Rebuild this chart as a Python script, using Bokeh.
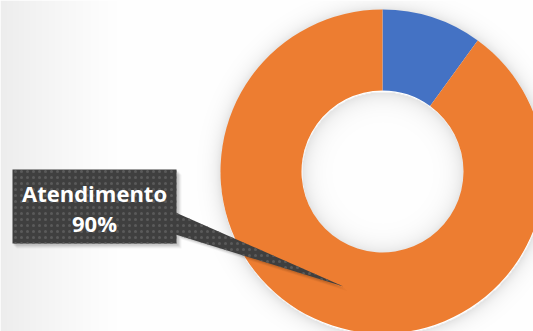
import numpy as np
from bokeh.plotting import figure
from bokeh.models import Range1d, ColumnDataSource
from bokeh.core.properties import value
from bokeh.embed import file_html
from bokeh.resources import INLINE

# ---- data ----
categories = ["Outros", "Atendimento"]
values = [10, 90]
colors = ["#4472C4", "#ED7D31"]
label_category = "Atendimento"

W, H = 533, 331
cx, cy = 382, H - 171
r_in, r_out = 81, 162

vals = np.array(values, dtype=float)
frac = vals / vals.sum()
cum = np.concatenate([[0], np.cumsum(frac)])
# clockwise from 12 o'clock
start = np.pi / 2 - 2 * np.pi * cum[1:]
end = np.pi / 2 - 2 * np.pi * cum[:-1]
src = ColumnDataSource(dict(cat=categories, val=values, color=colors, start=start, end=end))

p = figure(width=W, height=H, output_backend="svg", toolbar_location=None,
           x_range=Range1d(0, W), y_range=Range1d(0, H),
           min_border=0, x_axis_type=None, y_axis_type=None)
p.grid.visible = False
p.outline_line_color = None
p.background_fill_color = "white"
p.border_fill_color = "white"

# ---- background: soft gradient + donut shadows ----
yy, xx = np.mgrid[0:H, 0:W].astype(float)
g = np.full((H, W), 255.0)
g -= 18 * np.clip(1 - xx / 130.0, 0, 1) ** 1.3
d = np.hypot(xx - cx, yy - (cy - 2))
outer = d > r_out
g -= np.where(outer, 30 * np.exp(-(d - r_out) / 7.0), 0)
inner = d < r_in
g -= np.where(inner, 28 * np.exp(-(r_in - d) / 9.0), 0)
g = np.clip(g, 0, 255).astype(np.uint32)
img = (255 << 24) | (g << 16) | (g << 8) | g
p.image_rgba(image=[img.astype(np.uint32)], x=0, y=0, dw=W, dh=H)

# ---- donut ----
p.annular_wedge(x=cx, y=cy, inner_radius=r_in, outer_radius=r_out,
                start_angle="start", end_angle="end", color="color",
                line_color=None, source=src)

# ---- callout ----
bl, br, bt, bb = 12, 176, H - 169, H - 243
for k, a in [(5, 0.04), (4, 0.05), (3, 0.06), (2, 0.08)]:
    p.quad(left=bl + k - 1, right=br + k, top=bt - k, bottom=bb - k,
           fill_color="black", fill_alpha=a, line_color=None)
    p.patch(x=[br + k, br + k, 343 + k], y=[H - 212 - k, H - 234 - k, H - 286 - k],
            fill_color="black", fill_alpha=a * 0.8, line_color=None)

pointer_x = [br - 1, br - 1, 343]
pointer_y = [H - 212, H - 234, H - 286]
p.patch(x=pointer_x, y=pointer_y, fill_color="#3f3f3f", line_color=None,
        hatch_pattern=".", hatch_color="#5a5a5a", hatch_scale=6, hatch_weight=1.5)
p.quad(left=bl, right=br, top=bt, bottom=bb, fill_color="#3f3f3f", line_color=None,
       hatch_pattern=".", hatch_color="#5a5a5a", hatch_scale=6, hatch_weight=1.5)

idx = categories.index(label_category)
pct = int(round(frac[idx] * 100))
tx = (bl + br) / 2
p.text(x=[tx], y=[H - 192], text=[categories[idx]], text_color="white",
       text_font=value("Open Sans"), text_font_style="bold", text_font_size="22px",
       text_align="center", text_baseline="middle")
p.text(x=[tx], y=[H - 222], text=[f"{pct}%"], text_color="white",
       text_font=value("Open Sans"), text_font_style="bold", text_font_size="22px",
       text_align="center", text_baseline="middle")

open("out.html", "w").write(file_html(p, INLINE))
